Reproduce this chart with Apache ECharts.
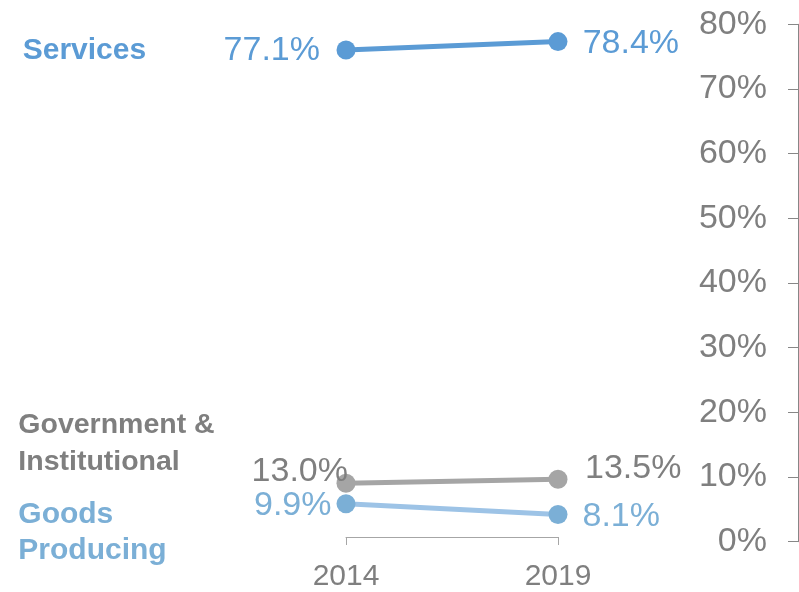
<!DOCTYPE html>
<html>
<head>
<meta charset="utf-8">
<script src="https://cdn.jsdelivr.net/npm/echarts@6/dist/echarts.min.js"></script>
<style>
  html, body { margin: 0; padding: 0; background: #ffffff; }
  #chart { width: 799px; height: 592px; }
</style>
</head>
<body>
<div id="chart"></div>
<script>
// ---- data ----
const categories = ['2014', '2019'];
// plotted positions (% of share axis)
const servicesValues = [76.0, 77.3];
const governmentValues = [8.4, 9.0];
const goodsValues = [5.2, 3.5];
// data label texts as printed in the chart
const servicesLabels = ['77.1%', '78.4%'];
const governmentLabels = ['13.0%', '13.5%'];
const goodsLabels = ['9.9%', '8.1%'];
// y-axis ticks
const yMin = 0, yMax = 80, yStep = 10;

const FONT = '"Liberation Sans", Arial, sans-serif';
const C_SERV = '#5B9BD5';
const C_GOV_LINE = '#A5A5A5';
const C_GOV_TEXT = '#7F7F7F';
const C_GOODS_LINE = '#9DC3E6';
const C_GOODS_MARK = '#7BAFD6';

function mkData(values, labels, labelCfgs) {
  return values.map((v, i) => ({
    value: v,
    label: Object.assign({ formatter: labels[i] }, labelCfgs[i])
  }));
}

const chart = echarts.init(document.getElementById('chart'), null, { renderer: 'canvas' });
const option = {
  animation: false,
  backgroundColor: '#ffffff',
  grid: [
    { left: 346, right: 241, top: 24.3, bottom: 50.3 },
    { left: 346, right: 1, top: 24.3, bottom: 50.3 }
  ],
  xAxis: [
    {
      gridIndex: 0, type: 'category', data: categories, boundaryGap: false,
      axisLine: { show: true, lineStyle: { color: '#A6A6A6', width: 1 } },
      axisTick: { show: true, length: 8, lineStyle: { color: '#A6A6A6' } },
      axisLabel: { color: '#7F7F7F', fontSize: 30, fontFamily: FONT, margin: 25 },
      splitLine: { show: false }
    },
    {
      gridIndex: 1, type: 'category', data: categories, show: false
    }
  ],
  yAxis: [
    { gridIndex: 0, type: 'value', min: yMin, max: yMax, interval: yStep, show: false },
    {
      gridIndex: 1, type: 'value', position: 'right', min: yMin, max: yMax, interval: yStep,
      axisLine: { show: true, lineStyle: { color: '#878787', width: 1 } },
      axisTick: { show: true, inside: true, length: 10, lineStyle: { color: '#878787' } },
      axisLabel: { inside: true, margin: 31, color: '#7F7F7F', fontSize: 34, fontFamily: FONT,
                   formatter: '{value}%' },
      splitLine: { show: false }
    }
  ],
  series: [
    {
      name: 'Services', type: 'line', xAxisIndex: 0, yAxisIndex: 0, clip: false,
      symbol: 'circle', symbolSize: 19,
      lineStyle: { color: C_SERV, width: 5 },
      itemStyle: { color: C_SERV },
      label: { show: true, color: C_SERV, fontSize: 34, fontFamily: FONT },
      data: mkData(servicesValues, servicesLabels, [
        { position: 'left', distance: 16.5, offset: [0, 1] },
        { position: 'right', distance: 15.2, offset: [0, 2] }
      ])
    },
    {
      name: 'Government & Institutional', type: 'line', xAxisIndex: 0, yAxisIndex: 0, clip: false,
      symbol: 'circle', symbolSize: 19,
      lineStyle: { color: C_GOV_LINE, width: 5 },
      itemStyle: { color: C_GOV_LINE },
      label: { show: true, color: C_GOV_TEXT, fontSize: 34, fontFamily: FONT },
      data: mkData(governmentValues, governmentLabels, [
        { position: 'left', distance: 5, offset: [16.5, -12] },
        { position: 'right', distance: 17.5, offset: [0, -11] }
      ])
    },
    {
      name: 'Goods Producing', type: 'line', xAxisIndex: 0, yAxisIndex: 0, clip: false,
      symbol: 'circle', symbolSize: 19,
      lineStyle: { color: C_GOODS_LINE, width: 5 },
      itemStyle: { color: C_GOODS_MARK },
      label: { show: true, color: C_GOODS_MARK, fontSize: 34, fontFamily: FONT },
      data: mkData(goodsValues, goodsLabels, [
        { position: 'left', distance: 5, offset: [0, 2] },
        { position: 'right', distance: 15, offset: [0, 2] }
      ])
    }
  ],
  graphic: [
    { type: 'text', left: 22.7, top: 35.5, style: { text: 'Services', fill: C_SERV,
      font: 'bold 30px ' + FONT } },
    { type: 'text', left: 18.3, top: 406, style: { text: 'Government &\nInstitutional', fill: C_GOV_TEXT,
      font: 'bold 28.5px ' + FONT, lineHeight: 37.5 } },
    { type: 'text', left: 18.3, top: 497, style: { text: 'Goods\nProducing', fill: C_GOODS_MARK,
      font: 'bold 30px ' + FONT, lineHeight: 35.5 } }
  ]
};
chart.setOption(option);
</script>
</body>
</html>
